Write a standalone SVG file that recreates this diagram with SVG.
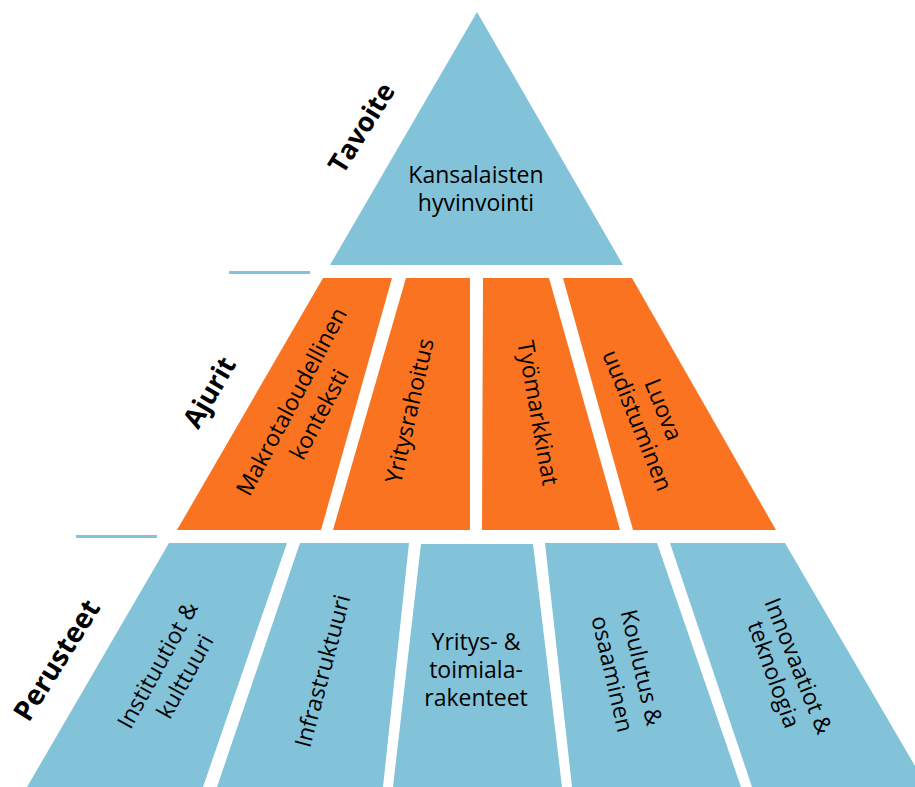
<svg xmlns="http://www.w3.org/2000/svg" width="915" height="787" viewBox="0 0 915 787">
<style>
.blue{fill:#82C3D9}
.orange{fill:#F97321}
.t{font-family:"Open Sans","Liberation Sans",sans-serif;font-size:23px;fill:#000;text-anchor:middle}
.h{font-family:"Open Sans","Liberation Sans",sans-serif;font-size:27px;font-weight:bold;fill:#000;text-anchor:middle}
.rule{stroke:#82C3D9;stroke-width:3;fill:none}
</style>
<rect width="915" height="787" fill="#fff"/>
<g id="rules">
<line class="rule" x1="229" y1="272.5" x2="310" y2="272.5"/>
<line class="rule" x1="76" y1="536.5" x2="157" y2="536.5"/>
</g>
<g id="tavoite-label"><text class="h" transform="translate(361,127.5) rotate(-58)" y="10">Tavoite</text></g>
<g id="ajurit-label"><text class="h" transform="translate(211.5,393.5) rotate(-60)" y="7">Ajurit</text></g>
<g id="perusteet-label"><text class="h" style="font-size:28px" transform="translate(56.5,660) rotate(-58)" y="10">Perusteet</text></g>
<g id="goal">
<polygon class="blue" points="477,12 330,265 623,265"/>
<text class="t" x="476" y="183">Kansalaisten</text>
<text class="t" x="476" y="211">hyvinvointi</text>
</g>
<g id="driver-1">
<polygon class="orange" points="323,278 392,278 321,530 177,530"/>
<text class="t" transform="translate(291.5,401.5) rotate(-62)" y="8">Makrotaloudellinen</text>
<text class="t" transform="translate(319,414.5) rotate(-62)" y="8">konteksti</text>
</g>
<g id="driver-2">
<polygon class="orange" points="406,278 470,278 470,530 333,530"/>
<text class="t" transform="translate(412.5,411.5) rotate(-77)" y="5">Yritysrahoitus</text>
</g>
<g id="driver-3">
<polygon class="orange" points="483,278 549,278 620,530 482,530"/>
<text class="t" transform="translate(535,413.5) rotate(80)" y="5">Työmarkkinat</text>
</g>
<g id="driver-4">
<polygon class="orange" points="563,278 632,278 776,530 633,530"/>
<text class="t" transform="translate(663.5,409.5) rotate(68)" y="8">Luova</text>
<text class="t" transform="translate(637.5,420.5) rotate(68)" y="8">uudistuminen</text>
</g>
<g id="base-1">
<polygon class="blue" points="169,543 287,543 203,787 27,787"/>
<text class="t" transform="translate(157.5,665) rotate(-61)" y="8">Instituutiot &amp;</text>
<text class="t" transform="translate(185,676.5) rotate(-61)" y="8">kulttuuri</text>
</g>
<g id="base-2">
<polygon class="blue" points="300,543 409,543 383,787 217,787"/>
<text class="t" transform="translate(322.5,671) rotate(-75)" y="8">Infrastruktuuri</text>
</g>
<g id="base-3">
<polygon class="blue" points="421,544 533,544 562,787 393,787"/>
<text class="t" x="476" y="650">Yritys- &amp;</text>
<text class="t" x="476" y="678">toimiala-</text>
<text class="t" x="476" y="706">rakenteet</text>
</g>
<g id="base-4">
<polygon class="blue" points="545,543 657,543 741,787 572,787"/>
<text class="t" transform="translate(641.5,667.5) rotate(77)" y="8">Koulutus &amp;</text>
<text class="t" transform="translate(612.5,674) rotate(77)" y="8">osaaminen</text>
</g>
<g id="base-5">
<polygon class="blue" points="670,543 785,543 915,766 915,787 752,787"/>
<text class="t" transform="translate(798.5,666) rotate(68)" y="8">Innovaatiot &amp;</text>
<text class="t" transform="translate(771,675.5) rotate(70)" y="5">teknologia</text>
</g>
<g id="connectors"></g>
</svg>
